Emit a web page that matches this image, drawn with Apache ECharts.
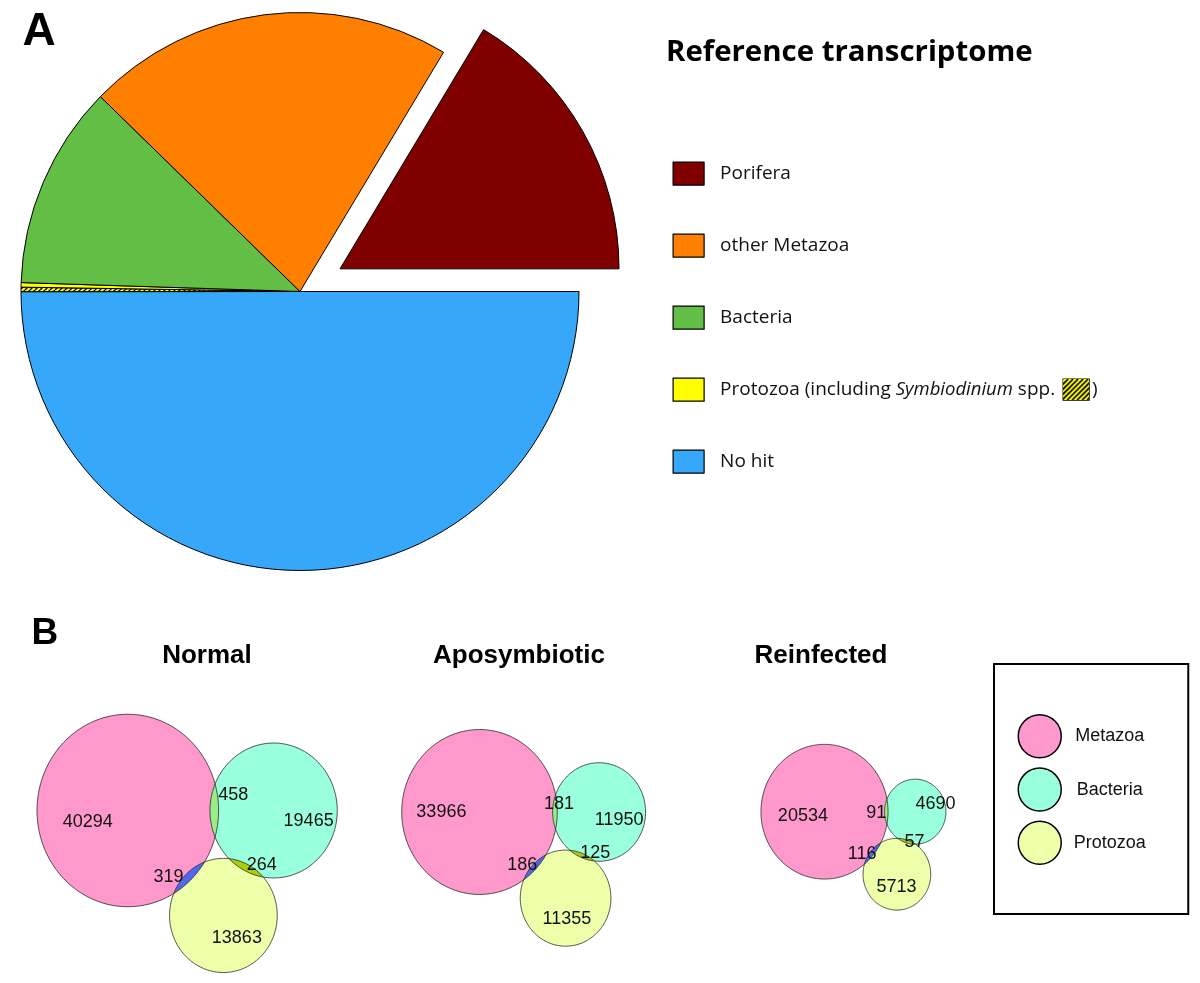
<!DOCTYPE html>
<html>
<head>
<meta charset="utf-8">
<script src="https://cdn.jsdelivr.net/npm/echarts@6/dist/echarts.min.js"></script>
<style>html,body{margin:0;padding:0;background:#fff}#chart{width:1200px;height:983px}</style>
</head>
<body>
<div id="chart"></div>
<script>
// ---------- Panel A data: share of contigs in the reference transcriptome (%) ----------
const pieNames = ['Porifera', 'No hit', 'Symbiodinium spp.', 'Protozoa', 'Bacteria', 'other Metazoa'];
const pieShares = [16.4, 50.0, 0.26, 0.26, 11.8, 21.3];
const pieLegendNames = ['Porifera', 'other Metazoa', 'Bacteria', 'Protozoa', 'No hit'];

// ---------- Panel B data: contig counts per Venn region ----------
const vennGroups = ['Normal', 'Aposymbiotic', 'Reinfected'];
const vennTaxa = ['Metazoa', 'Bacteria', 'Protozoa'];
const onlyMetazoa = [40294, 33966, 20534];
const onlyBacteria = [19465, 11950, 4690];
const onlyProtozoa = [13863, 11355, 5713];
const metazoaBacteria = [458, 181, 91];
const metazoaProtozoa = [319, 186, 116];
const bacteriaProtozoa = [264, 125, 57];

// ---------- styles / layout ----------
const pieColors = {'Porifera': '#800000', 'No hit': '#37a7fa', 'Protozoa': '#ffff00', 'Bacteria': '#62be44', 'other Metazoa': '#ff8000'};
const taxonColors = ['#ff99cc', '#99ffdd', '#eeffaa'];
const pairColors = ['#99ee88', '#5566ee', '#aacc11'];
const panelOrigin = [[127.8, 810.5], [479.5, 812], [824.5, 811.7]];
const panelScale = [0.794, 0.744, 0.782];
const yStretch = 1.06;
const titleX = [207, 519, 821];
const uniqueLabelFrac = [
  [[-0.44, 0.12], [0.55, 0.16], [0.25, 0.4]],
  [[-0.49, 0.0], [0.43, 0.16], [0.03, 0.43]],
  [[-0.34, 0.06], [0.66, -0.23], [-0.01, 0.37]]
];
const pairLabelShift = [
  [[19, -15], [-20, 0], [15.5, -3]],
  [[4, -8], [-12, -2], [13, -3]],
  [[-10, 1], [-10, 1], [8, 1]]
];

function makeHatch(w, h, period, lw) {
  const c = document.createElement('canvas');
  c.width = w; c.height = h;
  const ctx = c.getContext('2d');
  ctx.fillStyle = '#ffff00';
  ctx.fillRect(0, 0, w, h);
  ctx.strokeStyle = '#000';
  ctx.lineWidth = lw;
  for (let s = -h - period; s < w + h + period; s += period) {
    ctx.beginPath(); ctx.moveTo(s, h); ctx.lineTo(s + h, 0); ctx.stroke();
  }
  return c;
}
const hatchTile = makeHatch(5, 5, 5, 1.4);
const hatchBox = makeHatch(26, 21, 5, 1.6);

// ---------- area-proportional Venn layout ----------
function lensArea(r1, r2, d) {
  if (d >= r1 + r2) return 0;
  if (d <= Math.abs(r1 - r2)) return Math.PI * Math.min(r1, r2) ** 2;
  const a1 = Math.acos((d * d + r1 * r1 - r2 * r2) / (2 * d * r1));
  const a2 = Math.acos((d * d + r2 * r2 - r1 * r1) / (2 * d * r2));
  const k = Math.sqrt((-d + r1 + r2) * (d + r1 - r2) * (d - r1 + r2) * (d + r1 + r2));
  return r1 * r1 * a1 + r2 * r2 * a2 - 0.5 * k;
}
function distanceForOverlap(r1, r2, area) {
  let lo = Math.abs(r1 - r2), hi = r1 + r2;
  for (let i = 0; i < 80; i++) {
    const m = (lo + hi) / 2;
    if (lensArea(r1, r2, m) > area) lo = m; else hi = m;
  }
  return (lo + hi) / 2;
}
const layouts = vennGroups.map((g, p) => {
  const totals = [
    onlyMetazoa[p] + metazoaBacteria[p] + metazoaProtozoa[p],
    onlyBacteria[p] + metazoaBacteria[p] + bacteriaProtozoa[p],
    onlyProtozoa[p] + metazoaProtozoa[p] + bacteriaProtozoa[p]
  ];
  const radii = totals.map(n => Math.sqrt(n / Math.PI));
  const dMB = distanceForOverlap(radii[0], radii[1], metazoaBacteria[p]);
  const dMP = distanceForOverlap(radii[0], radii[2], metazoaProtozoa[p]);
  const dBP = distanceForOverlap(radii[1], radii[2], bacteriaProtozoa[p]);
  const px = (dMP * dMP - dBP * dBP + dMB * dMB) / (2 * dMB);
  const py = Math.sqrt(Math.max(0, dMP * dMP - px * px));
  return {
    radii: radii,
    centers: [[0, 0], [dMB, 0], [px, py]],
    pairs: [[0, 1], [0, 2], [1, 2]],
    pairCounts: [metazoaBacteria[p], metazoaProtozoa[p], bacteriaProtozoa[p]],
    uniqueCounts: [onlyMetazoa[p], onlyBacteria[p], onlyProtozoa[p]]
  };
});

function circlePts(api, cx, cy, r) {
  const pts = [];
  const n = 200;
  for (let i = 0; i < n; i++) {
    const a = 2 * Math.PI * i / n;
    pts.push(api.coord([cx + r * Math.cos(a), cy + r * Math.sin(a)]));
  }
  return pts;
}
function renderFill(t) {
  return function (params, api) {
    return {type: 'polygon', silent: true, shape: {points: circlePts(api, api.value(0), api.value(1), api.value(2))},
      style: {fill: taxonColors[t], stroke: null}};
  };
}
function renderOutline(params, api) {
  return {type: 'polygon', silent: true, shape: {points: circlePts(api, api.value(0), api.value(1), api.value(2))},
    style: {fill: null, stroke: '#2a2a2a', lineWidth: 0.8}};
}
function renderLens(params, api) {
  const x1 = api.value(0), y1 = api.value(1), r1 = api.value(2);
  const x2 = api.value(3), y2 = api.value(4), r2 = api.value(5), idx = api.value(6);
  const d = Math.hypot(x2 - x1, y2 - y1);
  const th = Math.atan2(y2 - y1, x2 - x1);
  const a = (d * d + r1 * r1 - r2 * r2) / (2 * d);
  const al1 = Math.acos(Math.max(-1, Math.min(1, a / r1)));
  const al2 = Math.acos(Math.max(-1, Math.min(1, (d - a) / r2)));
  const pts = [];
  const n = 60;
  for (let i = 0; i <= n; i++) {
    const g = th - al1 + 2 * al1 * i / n;
    pts.push(api.coord([x1 + r1 * Math.cos(g), y1 + r1 * Math.sin(g)]));
  }
  for (let i = 0; i <= n; i++) {
    const g = th + Math.PI - al2 + 2 * al2 * i / n;
    pts.push(api.coord([x2 + r2 * Math.cos(g), y2 + r2 * Math.sin(g)]));
  }
  return {type: 'polygon', silent: true, shape: {points: pts}, style: {fill: pairColors[idx], stroke: null}};
}
function renderLabel(params, api) {
  const pt = api.coord([api.value(0), api.value(1)]);
  return {type: 'text', silent: true, x: pt[0] + api.value(3), y: pt[1] + api.value(4),
    style: {text: String(api.value(2)), font: '18px "Liberation Sans", Arial, sans-serif', fill: '#111', align: 'center', verticalAlign: 'middle'}};
}

// ---------- build option ----------
const grids = [], xAxes = [], yAxes = [], series = [];
const pieTotal = pieShares.reduce((s, v) => s + v, 0);

series.push({
  type: 'pie', center: [300, 291.5], radius: 279,
  startAngle: pieShares[0] / pieTotal * 360, clockwise: true,
  selectedMode: 'single', selectedOffset: 46,
  label: {show: false}, labelLine: {show: false},
  emphasis: {disabled: true}, silent: true,
  itemStyle: {borderColor: '#000', borderWidth: 1},
  data: pieNames.map((n, i) => ({
    name: n, value: pieShares[i], selected: i === 0,
    itemStyle: {color: n === 'Symbiodinium spp.' ? {image: hatchTile, repeat: 'repeat'} : pieColors[n]}
  }))
});

const XMIN = -150, XMAX = 260, YMIN = -130, YMAX = 190;
vennGroups.forEach((g, p) => {
  const k = panelScale[p], ky = k * yStretch;
  const o = panelOrigin[p];
  grids.push({left: o[0] + XMIN * k, top: o[1] + YMIN * ky, width: (XMAX - XMIN) * k, height: (YMAX - YMIN) * ky, containLabel: false});
  xAxes.push({type: 'value', gridIndex: p, min: XMIN, max: XMAX, show: false});
  yAxes.push({type: 'value', gridIndex: p, min: YMIN, max: YMAX, inverse: true, show: false});
  const L = layouts[p];
  vennTaxa.forEach((t, ti) => {
    series.push({type: 'custom', name: t, xAxisIndex: p, yAxisIndex: p, clip: false, silent: true,
      itemStyle: {color: taxonColors[ti]},
      data: [[L.centers[ti][0], L.centers[ti][1], L.radii[ti]]], renderItem: renderFill(ti)});
  });
  series.push({type: 'custom', name: 'overlap', xAxisIndex: p, yAxisIndex: p, clip: false, silent: true,
    data: L.pairs.map((pr, pi) => [L.centers[pr[0]][0], L.centers[pr[0]][1], L.radii[pr[0]],
      L.centers[pr[1]][0], L.centers[pr[1]][1], L.radii[pr[1]], pi]),
    renderItem: renderLens});
  series.push({type: 'custom', name: 'outline', xAxisIndex: p, yAxisIndex: p, clip: false, silent: true,
    data: L.centers.map((c, ci) => [c[0], c[1], L.radii[ci]]), renderItem: renderOutline});
  const labels = [];
  L.centers.forEach((c, ci) => {
    const f = uniqueLabelFrac[p][ci];
    labels.push([c[0] + f[0] * L.radii[ci], c[1] + f[1] * L.radii[ci], L.uniqueCounts[ci], 0, 0]);
  });
  L.pairs.forEach((pr, pi) => {
    const c1 = L.centers[pr[0]], c2 = L.centers[pr[1]];
    const r1 = L.radii[pr[0]], r2 = L.radii[pr[1]];
    const d = Math.hypot(c2[0] - c1[0], c2[1] - c1[1]);
    const h = r1 + r2 - d;
    const s = (r1 - h / 2) / d;
    const sh = pairLabelShift[p][pi];
    labels.push([c1[0] + (c2[0] - c1[0]) * s, c1[1] + (c2[1] - c1[1]) * s, L.pairCounts[pi], sh[0], sh[1]]);
  });
  series.push({type: 'custom', name: 'labels', xAxisIndex: p, yAxisIndex: p, clip: false, silent: true,
    data: labels, renderItem: renderLabel});
});

const graphic = [
  {type: 'text', x: 22.5, y: 32.5, silent: true, style: {text: 'A', font: 'bold 46px "Liberation Sans", Arial, sans-serif', fill: '#000', align: 'left', verticalAlign: 'middle'}},
  {type: 'text', x: 31.5, y: 634, silent: true, style: {text: 'B', font: 'bold 37px "Liberation Sans", Arial, sans-serif', fill: '#000', align: 'left', verticalAlign: 'middle'}},
  {type: 'text', x: 666, y: 52.5, silent: true, style: {text: 'Reference transcriptome', font: 'bold 29.4px "Open Sans", sans-serif', fill: '#000', align: 'left', verticalAlign: 'middle'}}
];
vennGroups.forEach((g, p) => {
  graphic.push({type: 'text', x: titleX[p], y: 656, silent: true,
    style: {text: g, font: 'bold 26px "Liberation Sans", Arial, sans-serif', fill: '#000', align: 'center', verticalAlign: 'middle'}});
});

const option = {
  animation: false,
  backgroundColor: '#ffffff',
  legend: [
    {
      data: pieLegendNames.map(n => ({name: n, itemStyle: {color: pieColors[n], borderColor: '#000', borderWidth: 1.2}})),
      orient: 'vertical', left: 672.5, top: 161.5, padding: 0,
      itemWidth: 31, itemHeight: 23, itemGap: 47.8, icon: 'rect', selectedMode: false,
      itemStyle: {borderColor: '#000', borderWidth: 1.2},
      textStyle: {
        fontFamily: 'Open Sans', fontSize: 19, color: '#111', padding: [0, 0, 0, 11],
        rich: {
          i: {fontFamily: 'Open Sans', fontSize: 18.5, fontStyle: 'italic', color: '#111'},
          sp: {width: 8},
          h: {width: 26, height: 21, backgroundColor: {image: hatchBox}, borderColor: '#000', borderWidth: 1.2},
          c: {fontFamily: 'Open Sans', fontSize: 19, color: '#111', padding: [0, 0, 0, 3]}
        }
      },
      formatter: function (name) {
        if (name === 'Protozoa') return 'Protozoa (including {i|Symbiodinium} spp.{sp| }{h| }{c|)}';
        return name;
      }
    },
    {
      data: vennTaxa.map((n, i) => ({name: n, itemStyle: {color: taxonColors[i], borderColor: '#000', borderWidth: 1.5}})),
      orient: 'vertical', left: 994, top: 664, padding: [50, 42.5, 49, 23.5],
      itemWidth: 46, itemHeight: 43, itemGap: 8.8, icon: 'circle', selectedMode: false,
      borderColor: '#000', borderWidth: 2,
      itemStyle: {borderColor: '#000', borderWidth: 1.5},
      textStyle: {
        fontFamily: 'Liberation Sans', fontSize: 18, color: '#111',
        rich: {c: {width: 84, align: 'center', fontFamily: 'Liberation Sans', fontSize: 18, color: '#111'}}
      },
      formatter: function (name) { return '{c|' + name + '}'; }
    }
  ],
  grid: grids, xAxis: xAxes, yAxis: yAxes,
  series: series,
  graphic: graphic
};

const chart = echarts.init(document.getElementById('chart'), null, {renderer: 'canvas'});
chart.setOption(option);
</script>
</body>
</html>
